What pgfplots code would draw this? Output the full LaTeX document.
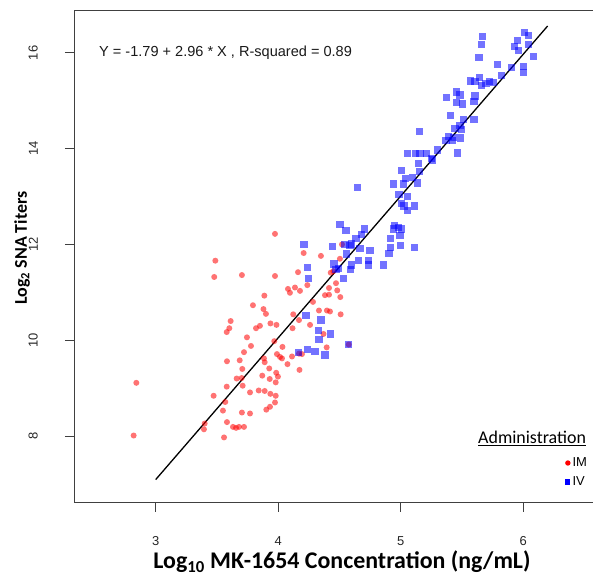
\documentclass[border=0pt]{standalone}
\usepackage{fontspec}
\setmainfont{Liberation Sans}
\newfontfamily\calibri{Carlito}
\usepackage{pgfplots}
\pgfplotsset{compat=1.18}
\definecolor{imred}{RGB}{255,0,0}
\definecolor{ivblue}{RGB}{0,0,255}
\begin{document}
\begin{tikzpicture}
\begin{axis}[
  scale only axis, width=525.1bp, height=492bp,
  xmin=2.3331, xmax=6.62, ymin=6.6075, ymax=16.879,
  xtick={3,4,5,6}, ytick={8,10,12,14,16},
  tick align=outside, tick pos=left, major tick length=9bp,
  axis line style={black!75, line width=0.9bp},
  every tick/.style={black!75, line width=0.9bp},
  /pgf/number format/assume math mode=true,
  ticklabel style={font=\fontsize{13}{15}\selectfont, text=black!85},
  xticklabel style={anchor=base, inner sep=0pt, yshift=-33.3bp},
  yticklabel={\rotatebox{90}{\pgfmathprintnumber{\tick}}},
  yticklabel style={anchor=east, inner sep=0pt, xshift=-27bp},
  xlabel={\calibri\bfseries Log\textsubscript{10} MK-1654 Concentration (ng/mL)},
  xlabel style={font=\fontsize{24}{27}\selectfont, at={(axis description cs:0.5103,-0.1337)}, anchor=base},
  ylabel={\calibri\bfseries Log\textsubscript{2} SNA Titers},
  ylabel style={font=\fontsize{18}{21}\selectfont, at={(axis description cs:-0.099,0.5177)}, anchor=center},
  legend image code/.code={\draw[#1] plot coordinates {(0bp,0bp)};},
  legend style={at={(axis description cs:0.935,0.0614)}, anchor=west, draw=none, fill=none,
    font=\fontsize{13}{15}\selectfont, row sep=4.6bp, inner sep=0pt, cells={anchor=west}},
]
\addplot[only marks, mark=*, mark size=3bp, mark options={draw opacity=0, fill=imred, fill opacity=0.55}, forget plot] coordinates {
(3.974,12.22) (3.487,11.66) (3.478,11.32) (3.704,11.36) (3.974,11.34)
(4.208,11.82) (4.349,11.76) (4.521,12.00) (4.162,11.42) (4.504,11.70)
(4.429,11.41) (4.450,11.44) (4.472,11.19) (4.238,11.15) (4.080,11.07)
(4.137,11.10) (4.096,10.99) (4.178,11.03) (4.415,11.09) (4.482,11.04)
(4.382,10.94) (4.415,10.95) (4.507,10.90) (4.284,10.80) (3.887,10.93)
(3.794,10.73) (3.880,10.65) (3.900,10.55) (3.612,10.40) (3.601,10.25)
(3.580,10.17) (3.819,10.25) (3.851,10.30) (3.937,10.35) (3.986,10.32)
(4.123,10.54) (4.170,10.42) (4.117,10.25) (4.260,10.32) (4.333,10.62)
(4.398,10.62) (4.423,10.60) (4.510,10.54) (3.745,10.06) (3.778,9.88)
(3.968,9.98) (4.035,9.86) (4.370,10.13) (4.396,9.85) (3.721,9.75)
(3.582,9.56) (3.686,9.58) (3.884,9.62) (3.890,9.54) (3.990,9.71)
(4.015,9.65) (4.031,9.62) (4.113,9.66) (4.076,9.50) (4.170,9.72)
(4.194,9.71) (3.707,9.40) (3.927,9.41) (3.984,9.32) (3.998,9.24)
(4.174,9.38) (3.661,9.20) (3.702,9.21) (3.870,9.26) (3.931,9.19)
(3.980,9.12) (3.580,9.03) (3.710,9.05) (3.473,8.84) (3.770,8.91)
(3.841,8.95) (3.890,8.94) (3.936,8.88) (3.980,8.84) (3.568,8.71)
(3.974,8.70) (3.933,8.61) (3.903,8.55) (3.549,8.53) (3.704,8.49)
(3.770,8.47) (3.582,8.29) (3.400,8.26) (3.394,8.14) (3.631,8.19)
(3.656,8.17) (3.680,8.19) (3.721,8.19) (3.558,7.97) (2.842,9.11)
(2.820,8.01) (4.576,9.91)
};
\addplot[only marks, mark=square*, mark size=3.6bp, mark options={draw opacity=0, fill=ivblue, fill opacity=0.55}, forget plot] coordinates {
(5.669,16.34) (5.661,16.18) (5.639,15.90) (6.009,16.42) (6.042,16.36)
(5.952,16.25) (5.927,16.13) (5.960,16.04) (6.042,16.18) (6.082,15.92)
(5.792,15.76) (5.906,15.69) (6.001,15.71) (6.001,15.59) (5.824,15.52)
(5.642,15.48) (5.571,15.41) (5.607,15.40) (5.723,15.40) (5.696,15.36)
(5.661,15.31) (5.756,15.38) (5.457,15.18) (5.484,15.12) (5.376,15.06)
(5.457,14.97) (5.503,14.93) (5.607,15.10) (5.598,14.98) (5.408,14.69)
(5.511,14.60) (5.598,14.60) (5.484,14.49) (5.443,14.42) (5.498,14.40)
(5.389,14.26) (5.429,14.24) (5.490,14.22) (5.370,14.17) (5.424,14.17)
(5.299,13.97) (5.462,13.91) (5.253,13.80) (5.152,14.35) (5.057,13.89)
(5.122,13.90) (5.158,13.90) (5.212,13.90) (5.261,13.76) (5.144,13.69)
(5.008,13.55) (5.152,13.52) (5.038,13.38) (5.098,13.39) (4.940,13.26)
(5.021,13.26) (5.136,13.28) (4.649,13.18) (4.986,13.05) (5.054,13.00)
(5.008,12.86) (5.027,12.80) (5.111,12.80) (5.054,12.70) (4.948,12.39)
(4.980,12.36) (4.940,12.32) (5.008,12.32) (4.994,12.18) (4.918,12.13)
(4.918,11.94) (5.000,11.97) (5.111,11.94) (4.904,11.81) (4.504,12.42)
(4.553,12.29) (4.703,12.32) (4.682,12.20) (4.635,12.13) (4.600,12.01)
(4.668,11.92) (4.445,11.95) (4.749,11.87) (4.559,11.80) (4.654,11.66)
(4.736,11.67) (4.736,11.57) (4.858,11.57) (4.600,11.57) (4.592,11.47)
(4.456,11.59) (4.472,11.47) (4.531,11.28) (4.211,11.99) (4.545,12.00)
(4.586,11.97) (4.491,11.49) (4.238,11.51) (4.246,11.28) (4.227,10.52)
(4.349,10.42) (4.327,10.20) (4.429,10.13) (4.333,10.02) (4.238,9.80)
(4.300,9.76) (4.382,9.69) (4.164,9.74) (4.572,9.91)
};
\addplot[black, line width=1.3bp, no marks, forget plot] coordinates {(3,7.09) (6.2,16.56)};
\addlegendimage{only marks, mark=*, mark size=2.7bp, mark options={draw opacity=0, fill=imred}}
\addlegendentry{IM}
\addlegendimage{only marks, mark=square*, mark size=2.6bp, mark options={draw opacity=0, fill=ivblue}}
\addlegendentry{IV}
\end{axis}
\node[anchor=west, font=\fontsize{14.6}{16}\selectfont, text=black!90, inner sep=0pt] at (25bp,449.7bp) {Y = -1.79 + 2.96 * X , R-squared = 0.89};
\node[anchor=base west, font=\calibri\fontsize{18}{20}\selectfont, inner sep=0pt] at (404bp,58.7bp) {\underline{Administration}};
\pgfresetboundingbox
\path[use as bounding box] (-74bp,-72.3bp) rectangle (519bp,502.7bp);
\end{tikzpicture}
\end{document}
